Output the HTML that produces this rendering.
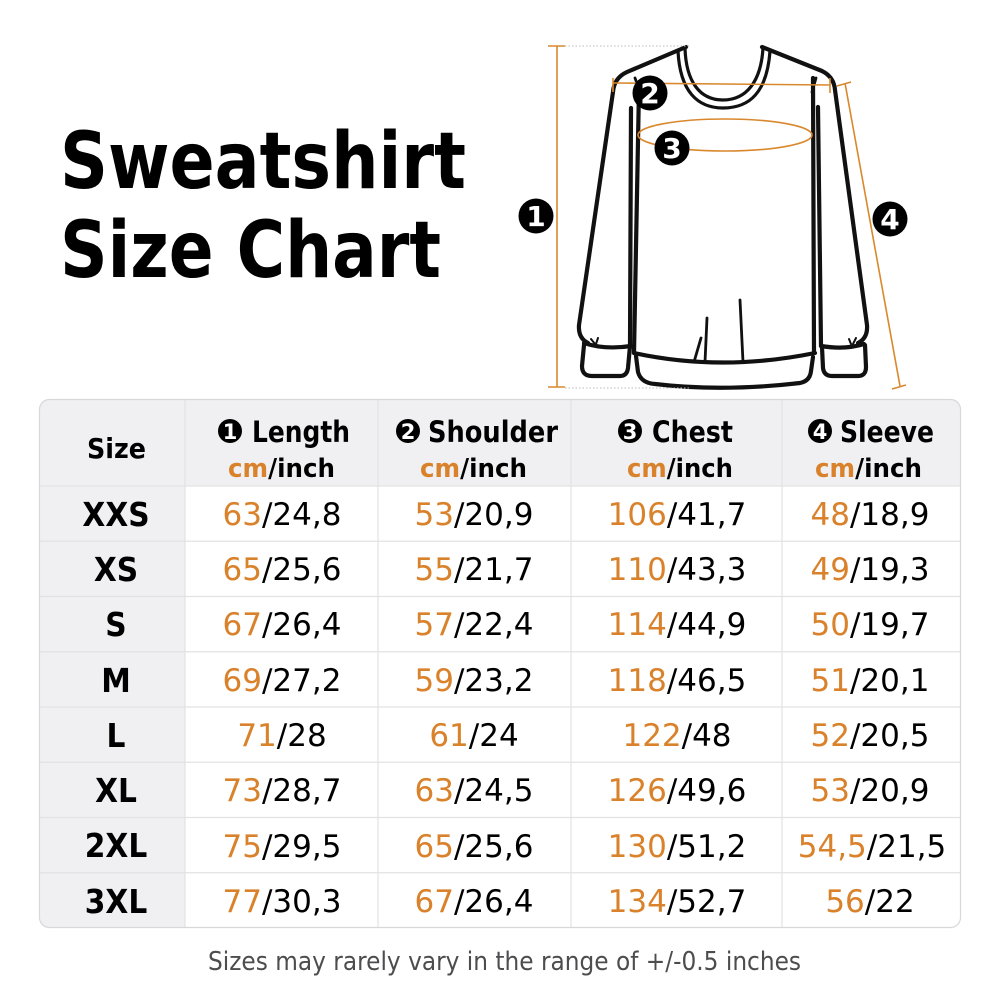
<!DOCTYPE html>
<html>
<head>
<meta charset="utf-8">
<style>
html,body{margin:0;padding:0;background:#fff;}
svg{display:block;}
text{font-family:"DejaVu Sans","Liberation Sans",sans-serif;}
</style>
</head>
<body>
<svg width="1000" height="1000" viewBox="0 0 1000 1000" xmlns="http://www.w3.org/2000/svg">
<rect width="1000" height="1000" fill="#fff"/>

<!-- Title -->
<text x="60" y="188" font-size="78" font-weight="bold" fill="#000" textLength="406" lengthAdjust="spacingAndGlyphs">Sweatshirt</text>
<text x="60" y="277" font-size="78" font-weight="bold" fill="#000" textLength="381" lengthAdjust="spacingAndGlyphs">Size Chart</text>

<!-- Sweatshirt drawing -->
<g fill="none" stroke="#111" stroke-width="4.2" stroke-linecap="round" stroke-linejoin="round">
  <path d="M686,47 L627,72 Q614,78 613,92 L579,325 Q578,338 588,343"/>
  <path d="M584,345 L582,366 Q582,376 592,376 L620,376 Q627,376 628,368 L630,346"/>
  <path d="M584,343 Q605,350 631,346"/>
  <path d="M631,108 L630,346"/>
  <path d="M639,88 L634,353"/>
  <path d="M634,353 Q722,372 815,353"/>
  <path d="M636,356 L638,372 Q641,383 655,384 Q722,392 800,383 Q810,381 811,371 L813,357"/>
  <path d="M813,78 L814,353"/>
  <path d="M818,107 L821,346"/>
  <path d="M762,47 L822,71 Q834,77 835,90 L867,325 Q868,338 858,343"/>
  <path d="M821,346 Q845,350 864,344"/>
  <path d="M822,347 L823,368 Q824,376 832,376 L858,376 Q866,376 866,367 L865,345"/>
  <path d="M685,48 C686,82 700,100 723,100 C746,100 761,82 763,48" stroke-width="3.2"/>
  <path d="M678,51 C680,92 698,108 723,108 C750,108 767,92 770,51" stroke-width="3.2"/>
  <path d="M707,318 L705,362" stroke-width="2.8"/>
  <path d="M701,338 L694,362" stroke-width="2.8"/>
  <path d="M740,300 L743,362" stroke-width="2.8"/>
  <path d="M635,78 L640,92" stroke-width="2.8"/>
  <path d="M816,78 L812,92" stroke-width="2.8"/>
  <path d="M591,339 L595,344 M598,338 L596,344 M849,339 L851,344 M856,338 L853,344" stroke-width="2"/>
</g>

<!-- Measurement guides -->
<g fill="none" stroke="#bbb" stroke-width="1" stroke-dasharray="1.5 2">
  <path d="M565,46 L690,46"/>
  <path d="M565,388 L690,388"/>
</g>
<g fill="none" stroke="#D9882E" stroke-width="1.6">
  <path d="M557,46 L557,387"/>
  <path d="M548,46 L565,46 M548,387 L565,387"/>
  <path d="M613,83 L830,85"/>
  <path d="M613,78 L613,92 M830,78 L830,93"/>
  <ellipse cx="725" cy="135" rx="87" ry="16"/>
  <path d="M845,83 L900,386"/>
  <path d="M837,86 L851,82 M892,389 L906,385"/>
</g>

<!-- Numbered circles on drawing -->
<g>
  <circle cx="536" cy="216" r="17.5" fill="#000"/>
  <text x="536" y="226" font-size="28" font-weight="bold" fill="#fff" text-anchor="middle">1</text>
  <circle cx="650" cy="93" r="17.5" fill="#000"/>
  <text x="650" y="103" font-size="28" font-weight="bold" fill="#fff" text-anchor="middle">2</text>
  <circle cx="672" cy="148" r="17.5" fill="#000"/>
  <text x="672" y="158" font-size="28" font-weight="bold" fill="#fff" text-anchor="middle">3</text>
  <circle cx="890" cy="219" r="17.5" fill="#000"/>
  <text x="890" y="229" font-size="28" font-weight="bold" fill="#fff" text-anchor="middle">4</text>
</g>

<!-- Table -->
<defs>
  <clipPath id="tbl"><rect x="39" y="399" width="922" height="529" rx="10" ry="10"/></clipPath>
</defs>
<rect x="39" y="399" width="922" height="529" rx="10" ry="10" fill="#fff"/>
<g clip-path="url(#tbl)">
  <rect x="39" y="399" width="922" height="87" fill="#F0F0F2"/>
  <rect x="39" y="486" width="146" height="442" fill="#F0F0F2"/>
  <g stroke="#E2E2E4" stroke-width="1.2">
    <path d="M39,486 L961,486"/>
    <path d="M39,541.25 L961,541.25"/>
    <path d="M39,596.5 L961,596.5"/>
    <path d="M39,651.75 L961,651.75"/>
    <path d="M39,707 L961,707"/>
    <path d="M39,762.25 L961,762.25"/>
    <path d="M39,817.5 L961,817.5"/>
    <path d="M39,872.75 L961,872.75"/>
    <path d="M185,399 L185,928"/>
    <path d="M378,399 L378,928"/>
    <path d="M571,399 L571,928"/>
    <path d="M782,399 L782,928"/>
  </g>
</g>
<rect x="39.5" y="399.5" width="921" height="528" rx="10" ry="10" fill="none" stroke="#D8D8DA" stroke-width="1.2"/>

<!-- Header -->
<text x="87" y="458" font-size="28" font-weight="bold" fill="#000" textLength="59" lengthAdjust="spacingAndGlyphs">Size</text>

<circle cx="230" cy="431" r="12" fill="#000"/>
<text x="230" y="439" font-size="21" font-weight="bold" fill="#fff" text-anchor="middle">1</text>
<text x="252" y="442" font-size="29" font-weight="bold" fill="#000" textLength="98" lengthAdjust="spacingAndGlyphs">Length</text>
<text x="228" y="477" font-size="26" font-weight="bold" textLength="107" lengthAdjust="spacingAndGlyphs"><tspan fill="#D9822B">cm</tspan><tspan fill="#000">/inch</tspan></text>

<circle cx="408" cy="431" r="12" fill="#000"/>
<text x="408" y="439" font-size="21" font-weight="bold" fill="#fff" text-anchor="middle">2</text>
<text x="428" y="442" font-size="29" font-weight="bold" fill="#000" textLength="130" lengthAdjust="spacingAndGlyphs">Shoulder</text>
<text x="420" y="477" font-size="26" font-weight="bold" textLength="107" lengthAdjust="spacingAndGlyphs"><tspan fill="#D9822B">cm</tspan><tspan fill="#000">/inch</tspan></text>

<circle cx="630" cy="431" r="12" fill="#000"/>
<text x="630" y="439" font-size="21" font-weight="bold" fill="#fff" text-anchor="middle">3</text>
<text x="652" y="442" font-size="29" font-weight="bold" fill="#000" textLength="81" lengthAdjust="spacingAndGlyphs">Chest</text>
<text x="627" y="477" font-size="26" font-weight="bold" textLength="106" lengthAdjust="spacingAndGlyphs"><tspan fill="#D9822B">cm</tspan><tspan fill="#000">/inch</tspan></text>

<circle cx="820" cy="431" r="12" fill="#000"/>
<text x="820" y="439" font-size="21" font-weight="bold" fill="#fff" text-anchor="middle">4</text>
<text x="840" y="442" font-size="29" font-weight="bold" fill="#000" textLength="94" lengthAdjust="spacingAndGlyphs">Sleeve</text>
<text x="815" y="477" font-size="26" font-weight="bold" textLength="107" lengthAdjust="spacingAndGlyphs"><tspan fill="#D9822B">cm</tspan><tspan fill="#000">/inch</tspan></text>

<!-- Size labels -->
<g transform="translate(116,0) scale(0.9,1)" font-size="33" font-weight="bold" fill="#000" text-anchor="middle">
  <text x="0" y="526">XXS</text>
  <text x="0" y="581">XS</text>
  <text x="0" y="636">S</text>
  <text x="0" y="692">M</text>
  <text x="0" y="747">L</text>
  <text x="0" y="802">XL</text>
  <text x="0" y="857">2XL</text>
  <text x="0" y="913">3XL</text>
</g>

<!-- Data -->
<g font-size="31" text-anchor="middle" fill="#000">
  <text x="282" y="525"><tspan fill="#D9822B">63</tspan>/24,8</text>
  <text x="474" y="525"><tspan fill="#D9822B">53</tspan>/20,9</text>
  <text x="677" y="525"><tspan fill="#D9822B">106</tspan>/41,7</text>
  <text x="870" y="525"><tspan fill="#D9822B">48</tspan>/18,9</text>

  <text x="282" y="580"><tspan fill="#D9822B">65</tspan>/25,6</text>
  <text x="474" y="580"><tspan fill="#D9822B">55</tspan>/21,7</text>
  <text x="677" y="580"><tspan fill="#D9822B">110</tspan>/43,3</text>
  <text x="870" y="580"><tspan fill="#D9822B">49</tspan>/19,3</text>

  <text x="282" y="635"><tspan fill="#D9822B">67</tspan>/26,4</text>
  <text x="474" y="635"><tspan fill="#D9822B">57</tspan>/22,4</text>
  <text x="677" y="635"><tspan fill="#D9822B">114</tspan>/44,9</text>
  <text x="870" y="635"><tspan fill="#D9822B">50</tspan>/19,7</text>

  <text x="282" y="691"><tspan fill="#D9822B">69</tspan>/27,2</text>
  <text x="474" y="691"><tspan fill="#D9822B">59</tspan>/23,2</text>
  <text x="677" y="691"><tspan fill="#D9822B">118</tspan>/46,5</text>
  <text x="870" y="691"><tspan fill="#D9822B">51</tspan>/20,1</text>

  <text x="282" y="746"><tspan fill="#D9822B">71</tspan>/28</text>
  <text x="474" y="746"><tspan fill="#D9822B">61</tspan>/24</text>
  <text x="677" y="746"><tspan fill="#D9822B">122</tspan>/48</text>
  <text x="870" y="746"><tspan fill="#D9822B">52</tspan>/20,5</text>

  <text x="282" y="801"><tspan fill="#D9822B">73</tspan>/28,7</text>
  <text x="474" y="801"><tspan fill="#D9822B">63</tspan>/24,5</text>
  <text x="677" y="801"><tspan fill="#D9822B">126</tspan>/49,6</text>
  <text x="870" y="801"><tspan fill="#D9822B">53</tspan>/20,9</text>

  <text x="282" y="857"><tspan fill="#D9822B">75</tspan>/29,5</text>
  <text x="474" y="857"><tspan fill="#D9822B">65</tspan>/25,6</text>
  <text x="677" y="857"><tspan fill="#D9822B">130</tspan>/51,2</text>
  <text x="872" y="857"><tspan fill="#D9822B">54,5</tspan>/21,5</text>

  <text x="282" y="912"><tspan fill="#D9822B">77</tspan>/30,3</text>
  <text x="474" y="912"><tspan fill="#D9822B">67</tspan>/26,4</text>
  <text x="677" y="912"><tspan fill="#D9822B">134</tspan>/52,7</text>
  <text x="870" y="912"><tspan fill="#D9822B">56</tspan>/22</text>
</g>

<!-- Footer -->
<text x="208" y="970" font-size="26" fill="#4D4D4F" textLength="593" lengthAdjust="spacingAndGlyphs">Sizes may rarely vary in the range of +/-0.5 inches</text>
</svg>
</body>
</html>
